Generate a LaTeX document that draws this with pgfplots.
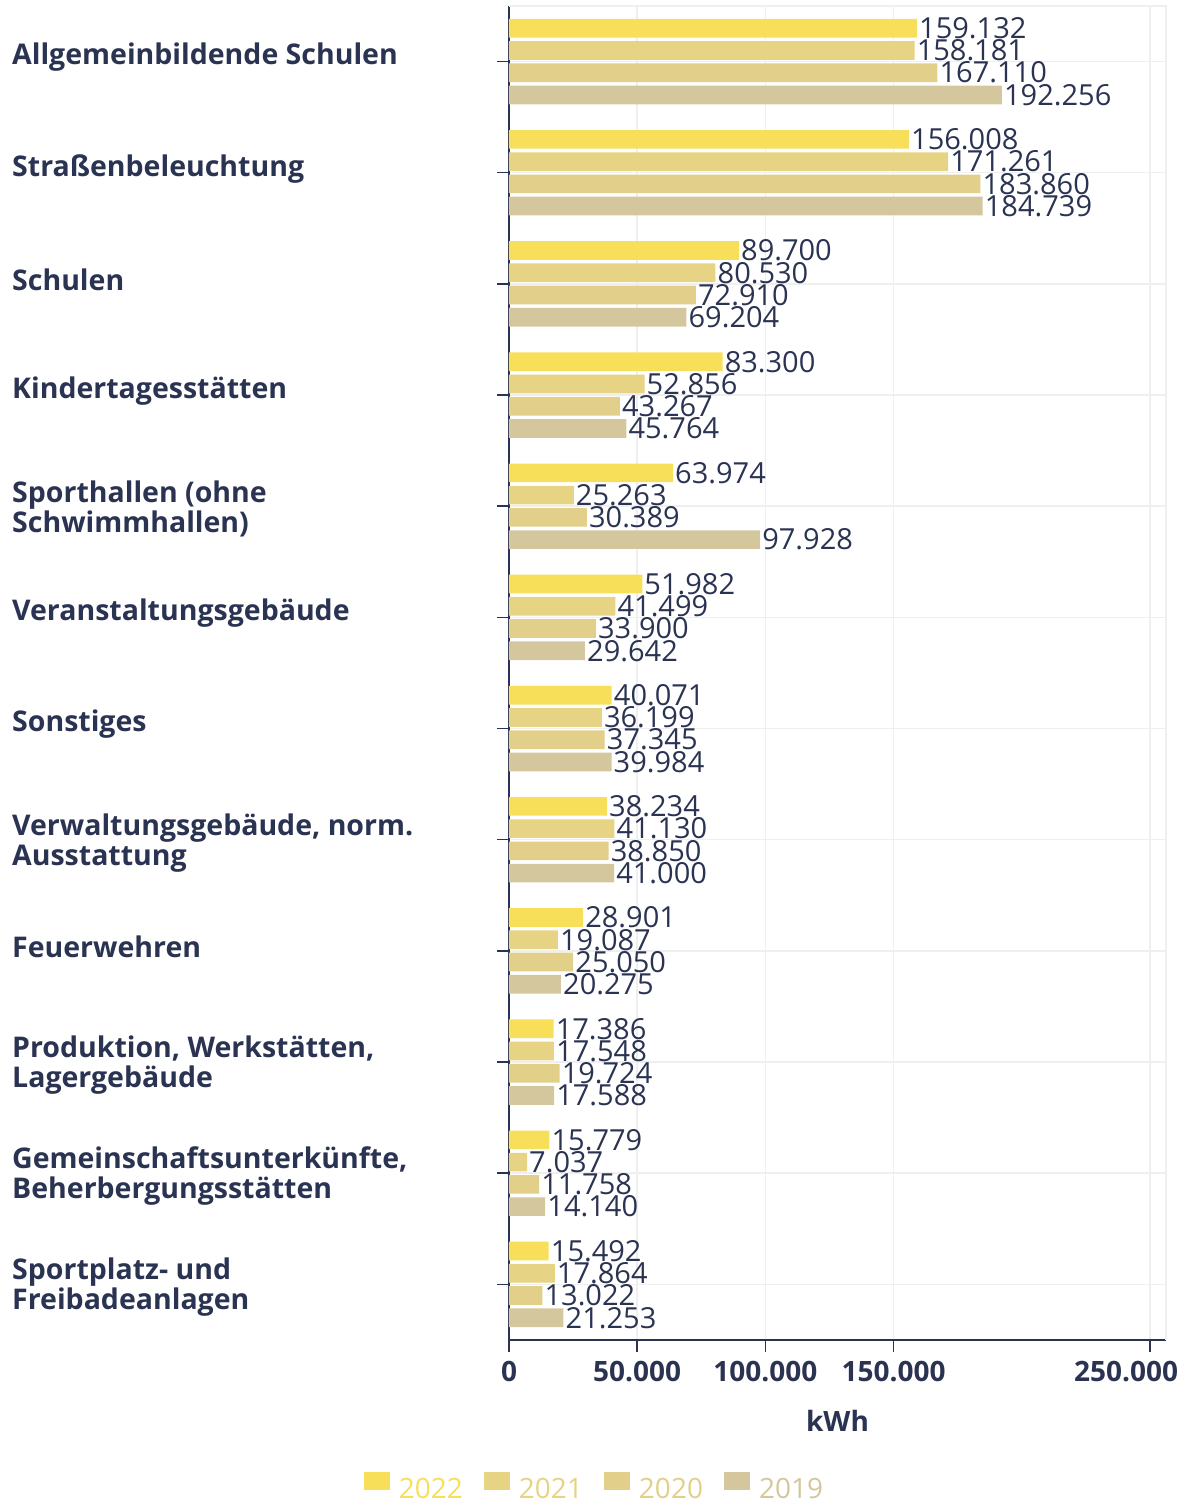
\documentclass[border=0pt]{standalone}
\usepackage{fontspec}
\setmainfont{Open Sans}
\usepackage{pgfplots}
\pgfplotsset{compat=1.18}
\definecolor{c2022}{HTML}{F7DF5A}
\definecolor{c2021}{HTML}{E6D383}
\definecolor{c2020}{HTML}{E1CF8A}
\definecolor{c2019}{HTML}{D4C79E}
\definecolor{navy}{HTML}{2A3352}
\definecolor{gridc}{HTML}{EFEFEF}
\begin{document}
\begin{tikzpicture}
\begin{axis}[
  scale only axis,
  width=657bp, height=1334bp,
  xmin=0, xmax=256250,
  ymin=-0.5, ymax=11.5,
  clip=false,
  xbar,
  bar width=0.168,
  axis lines*=left,
  axis line style={-, draw=navy, line width=1.8bp},
  tick align=outside,
  major tick length=12bp,
  tick style={draw=navy, line width=1.5bp},
  grid=major,
  major grid style={draw=gridc, line width=1.5bp},
  scaled x ticks=false,
  xtick={0,50000,100000,150000,250000},
  xticklabels={0,50.000,100.000,150.000,{\makebox[56bp][r]{250.000}}},
  xticklabel style={font=\fontsize{28bp}{32bp}\selectfont\bfseries, text=navy, yshift=-6bp},
  ytick={0,...,11},
  yticklabels={
    {Sportplatz- und\\Freibadeanlagen},
    {Gemeinschaftsunterkünfte,\\Beherbergungsstätten},
    {Produktion, Werkstätten,\\Lagergebäude},
    {\raisebox{7bp}[\height][\depth]{Feuerwehren}},
    {Verwaltungsgebäude, norm.\\Ausstattung},
    {\raisebox{7bp}[\height][\depth]{Sonstiges}},
    {\raisebox{7bp}[\height][\depth]{Veranstaltungsgebäude}},
    {Sporthallen (ohne\\Schwimmhallen)},
    {\raisebox{7bp}[\height][\depth]{Kindertagesstätten}},
    {\raisebox{7bp}[\height][\depth]{Schulen}},
    {\raisebox{7bp}[\height][\depth]{Straßenbeleuchtung}},
    {\raisebox{7bp}[\height][\depth]{Allgemeinbildende Schulen}}},
  yticklabel style={anchor=west, align=left, inner sep=0pt, xshift=-485bp, yshift=-3bp,
    font=\fontsize{28.5bp}{30bp}\selectfont\bfseries, text=navy},
  xlabel={kWh},
  xlabel style={at={(axis description cs:0.5,-0.0607)}, anchor=center,
    font=\fontsize{28bp}{32bp}\selectfont\bfseries, text=navy},
  point meta=x,
  nodes near coords,
  /pgf/number format/assume math mode=true,
  /pgf/number format/.cd, fixed, precision=0, 1000 sep={.},
  /pgfplots/.cd,
  every node near coord/.append style={anchor=west, inner sep=2bp,
    font=\fontsize{29bp}{32bp}\selectfont, text=navy},
  legend columns=4,
  legend style={at={(axis description cs:0.1286,-0.1092)}, anchor=center,
    draw=none, fill=none, font=\fontsize{28bp}{30bp}\selectfont,
    nodes={inner sep=0bp},
    /tikz/every odd column/.append style={column sep=9bp},
    /tikz/every even column/.append style={column sep=21bp}},
  legend image code/.code={\fill[#1,draw=none] (0bp,-1bp) rectangle (26bp,17bp);},
]
\addplot[fill=c2022, draw=none, bar shift=0.3] coordinates {
(159132,11) (156008,10) (89700,9) (83300,8) (63974,7) (51982,6)
(40071,5) (38234,4) (28901,3) (17386,2) (15779,1) (15492,0)};
\addlegendentry{\textcolor{c2022}{2022}}
\addplot[fill=c2021, draw=none, bar shift=0.1] coordinates {
(158181,11) (171261,10) (80530,9) (52856,8) (25263,7) (41499,6)
(36199,5) (41130,4) (19087,3) (17548,2) (7037,1) (17864,0)};
\addlegendentry{\textcolor{c2021}{2021}}
\addplot[fill=c2020, draw=none, bar shift=-0.1] coordinates {
(167110,11) (183860,10) (72910,9) (43267,8) (30389,7) (33900,6)
(37345,5) (38850,4) (25050,3) (19724,2) (11758,1) (13022,0)};
\addlegendentry{\textcolor{c2020}{2020}}
\addplot[fill=c2019, draw=none, bar shift=-0.3] coordinates {
(192256,11) (184739,10) (69204,9) (45764,8) (97928,7) (29642,6)
(39984,5) (41000,4) (20275,3) (17588,2) (14140,1) (21253,0)};
\addlegendentry{\textcolor{c2019}{2019}}
\draw[gridc, line width=1.5bp] (rel axis cs:0,1) -- (rel axis cs:1,1) -- (rel axis cs:1,0);
\path (rel axis cs:-0.77473,-0.12144) rectangle (rel axis cs:1.03196,1.0045);
\end{axis}
\end{tikzpicture}
\end{document}
